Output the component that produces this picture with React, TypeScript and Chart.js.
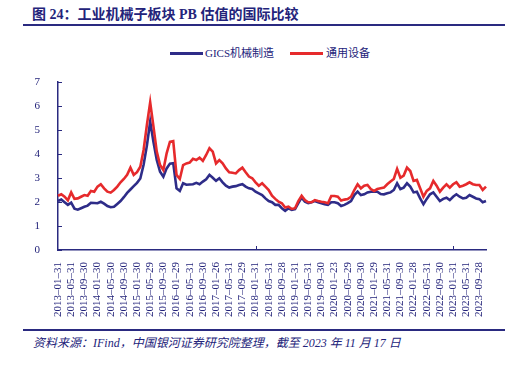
import React, { useEffect, useRef } from "react";
import { Chart, registerables } from "chart.js";

Chart.register(...registerables);

const tickLabels = [
  "2013-01-31", "2013-05-31", "2013-09-30", "2014-01-30", "2014-05-30", "2014-09-30",
  "2015-01-30", "2015-05-29", "2015-09-30", "2016-01-29", "2016-05-31", "2016-09-30",
  "2017-01-26", "2017-05-31", "2017-09-29", "2018-01-31", "2018-05-31", "2018-09-28",
  "2019-01-31", "2019-05-31", "2019-09-30", "2020-01-23", "2020-05-29", "2020-09-30",
  "2021-01-29", "2021-05-31", "2021-09-30", "2022-01-28", "2022-05-31", "2022-09-30",
  "2023-01-31", "2023-05-31", "2023-09-28",
];

const startYear = 2013;
const monthCount = 131; // 2013-01 .. 2023-11
const categories: string[] = [];
for (let i = 0; i < monthCount; i++) {
  const y = startYear + Math.floor(i / 12);
  const m = (i % 12) + 1;
  categories.push(`${y}-${m < 10 ? "0" + m : m}`);
}

const gicsMachinery = [
  2.04, 2.10, 1.99, 1.88, 1.97, 1.72, 1.68, 1.74, 1.80, 1.85,
  1.97, 1.96, 1.95, 2.01, 1.93, 1.83, 1.78, 1.80, 1.92, 2.04,
  2.20, 2.38, 2.52, 2.66, 2.80, 2.98, 3.55, 4.35, 5.35, 4.50,
  3.75, 3.26, 3.05, 3.40, 3.60, 3.62, 2.57, 2.46, 2.78, 2.72,
  2.73, 2.74, 2.80, 2.74, 2.85, 2.95, 3.13, 3.01, 2.88, 2.99,
  2.82, 2.68, 2.60, 2.64, 2.66, 2.71, 2.74, 2.64, 2.57, 2.54,
  2.43, 2.36, 2.29, 2.15, 2.04, 1.99, 1.88, 1.88, 1.74, 1.63,
  1.74, 1.67, 1.70, 1.95, 2.18, 2.01, 1.95, 1.99, 2.04, 1.99,
  1.95, 1.91, 1.88, 1.99, 1.99, 1.95, 1.83, 1.88, 1.95, 2.04,
  2.29, 2.43, 2.29, 2.32, 2.40, 2.43, 2.43, 2.43, 2.33, 2.32,
  2.36, 2.40, 2.50, 2.78, 2.54, 2.60, 2.78, 2.64, 2.40, 2.43,
  2.15, 1.91, 2.13, 2.32, 2.40, 2.22, 2.04, 2.13, 2.18, 2.08,
  2.22, 2.32, 2.22, 2.15, 2.18, 2.29, 2.22, 2.15, 2.12, 1.99,
  2.04,
];

const generalEquipment = [
  2.26, 2.32, 2.22, 2.07, 2.40, 2.13, 2.15, 2.22, 2.29, 2.26,
  2.46, 2.43, 2.64, 2.74, 2.57, 2.43, 2.39, 2.50, 2.64, 2.82,
  2.96, 3.13, 3.43, 3.13, 3.24, 3.47, 4.17, 5.21, 6.15, 5.14,
  4.10, 3.54, 3.33, 4.03, 4.51, 4.54, 3.13, 2.96, 3.54, 3.61,
  3.64, 3.80, 3.75, 3.85, 3.71, 3.96, 4.24, 4.10, 3.61, 3.75,
  3.61, 3.40, 3.24, 3.22, 3.19, 3.33, 3.43, 3.24, 3.06, 2.99,
  2.82, 2.68, 2.78, 2.64, 2.50, 2.26, 2.13, 2.01, 1.95, 1.77,
  1.81, 1.71, 1.74, 2.04, 2.26, 2.08, 1.99, 1.99, 2.08, 2.04,
  2.01, 1.99, 1.95, 2.25, 2.25, 2.22, 2.06, 2.10, 2.12, 2.22,
  2.50, 2.74, 2.57, 2.68, 2.71, 2.54, 2.46, 2.54, 2.57, 2.60,
  2.74, 2.85, 2.96, 3.38, 3.01, 3.10, 3.43, 3.29, 2.88, 2.92,
  2.57, 2.22, 2.46, 2.57, 2.88, 2.68, 2.43, 2.60, 2.74, 2.60,
  2.74, 2.82, 2.64, 2.68, 2.74, 2.82, 2.74, 2.71, 2.71, 2.50,
  2.64,
];

const seriesNames = ["GICS机械制造", "通用设备"];
const yTicks = [0, 1, 2, 3, 4, 5, 6, 7];
const yearTickIndices = [60, 120];

const NAVY = "#2a2a80";
const TEXT = "#23237a";
const BLUE = "#2e2c88";
const RED = "#e62a2c";
const FONT = '"Liberation Serif", "Noto Sans CJK SC", serif';

const innerTicks = {
  id: "innerTicks",
  afterDraw(chart: any) {
    const { ctx, chartArea, scales } = chart;
    ctx.save();
    ctx.strokeStyle = NAVY;
    ctx.lineWidth = 1;
    for (const v of yTicks) {
      const y = Math.round(scales.y.getPixelForValue(v)) + 0.5;
      ctx.beginPath();
      ctx.moveTo(chartArea.left, y);
      ctx.lineTo(chartArea.left + 4, y);
      ctx.stroke();
    }
    for (const i of yearTickIndices) {
      const x = Math.round(scales.x.getPixelForValue(i)) + 0.5;
      ctx.beginPath();
      ctx.moveTo(x, chartArea.bottom);
      ctx.lineTo(x, chartArea.bottom - 4);
      ctx.stroke();
    }
    ctx.restore();
  },
};

function ChartCanvas() {
  const ref = useRef<HTMLCanvasElement>(null);
  useEffect(() => {
    if (!ref.current) return;
    const chart = new Chart(ref.current, {
      type: "line",
      data: {
        labels: categories,
        datasets: [
          {
            label: seriesNames[0],
            data: gicsMachinery,
            borderColor: BLUE,
            borderWidth: 2.6,
            pointRadius: 0,
            tension: 0,
            order: 1,
          },
          {
            label: seriesNames[1],
            data: generalEquipment,
            borderColor: RED,
            borderWidth: 2.6,
            pointRadius: 0,
            tension: 0,
            order: 0,
          },
        ],
      },
      options: {
        responsive: false,
        animation: false,
        devicePixelRatio: 1,
        layout: { padding: { left: 0, right: 45, top: 42, bottom: 0 } },
        plugins: { legend: { display: false }, tooltip: { enabled: false } },
        scales: {
          x: {
            type: "category",
            offset: false,
            grid: { display: false },
            border: { display: true, color: NAVY, width: 1.5 },
            ticks: {
              autoSkip: false,
              maxRotation: 90,
              minRotation: 90,
              padding: 4,
              color: TEXT,
              font: { family: FONT, size: 11 },
              callback: (_v: any, i: number) =>
                i % 4 === 0 && tickLabels[i / 4] ? tickLabels[i / 4].replace(/-/g, "–") : "",
            },
            afterFit: (s: any) => {
              s.height = 70;
            },
          },
          y: {
            min: 0,
            max: 7,
            grid: { display: false },
            border: { display: true, color: NAVY, width: 1.5 },
            ticks: {
              stepSize: 1,
              padding: 10,
              color: TEXT,
              font: { family: FONT, size: 11 },
            },
            afterFit: (s: any) => {
              s.width = 58;
            },
          },
        },
      },
      plugins: [innerTicks],
    });
    return () => chart.destroy();
  }, []);
  return (
    <canvas
      ref={ref}
      width={531}
      height={280}
      style={{ position: "absolute", left: 0, top: 40, width: 531, height: 280 }}
    />
  );
}

export default function App() {
  const legendText: React.CSSProperties = {
    position: "absolute",
    top: 45,
    fontSize: 11,
    lineHeight: "16px",
    color: TEXT,
    fontFamily: FONT,
    whiteSpace: "nowrap",
  };
  return (
    <div
      style={{
        position: "absolute",
        left: 0,
        top: 0,
        width: 531,
        height: 365,
        background: "#fff",
        fontFamily: FONT,
        overflow: "hidden",
      }}
    >
      <div
        style={{
          position: "absolute",
          left: 32,
          top: 5,
          fontSize: 14,
          lineHeight: "20px",
          fontWeight: "bold",
          color: TEXT,
          whiteSpace: "nowrap",
        }}
      >
        图 24：工业机械子板块 PB 估值的国际比较
      </div>
      <div style={{ position: "absolute", left: 23, top: 24, width: 482, height: 2, background: NAVY }} />

      <div style={{ position: "absolute", left: 170, top: 51.5, width: 33, height: 3, background: BLUE }} />
      <div style={{ ...legendText, left: 205 }}>{seriesNames[0]}</div>
      <div style={{ position: "absolute", left: 290, top: 51.5, width: 33, height: 3, background: RED }} />
      <div style={{ ...legendText, left: 326 }}>{seriesNames[1]}</div>

      <ChartCanvas />

      <div style={{ position: "absolute", left: 23, top: 329, width: 482, height: 2, background: NAVY }} />
      <div
        style={{
          position: "absolute",
          left: 33,
          top: 335,
          fontSize: 12,
          lineHeight: "16px",
          fontStyle: "italic",
          color: TEXT,
          whiteSpace: "nowrap",
        }}
      >
        资料来源：IFind，中国银河证券研究院整理，截至 2023 年 11 月 17 日
      </div>
    </div>
  );
}
